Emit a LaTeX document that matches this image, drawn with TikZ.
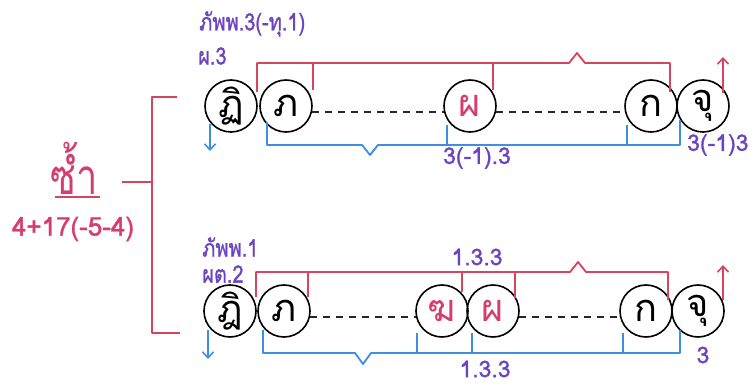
\documentclass[tikz,border=0pt]{standalone}
\usepackage{fontspec}
\usepackage{graphicx}
\newfontfamily\thai[Script=Thai]{Loma}
\newfontfamily\thaib[Script=Thai,FakeBold=1.2]{Loma}
\usetikzlibrary{arrows.meta}
\definecolor{rd}{HTML}{D8435E}
\definecolor{bl}{HTML}{3D8FE3}
\definecolor{pu}{HTML}{6B45C0}
\definecolor{pk}{HTML}{D63C6E}
\newcommand{\tall}[1]{\scalebox{1}[1.2]{#1}}
\tikzset{
  circ/.style={circle, draw=black, line width=1.6pt, minimum size=52pt, inner sep=0pt, font=\thai\fontsize{38}{38}\selectfont},
  lab/.style={text=pu, font=\thaib\fontsize{23}{23}\selectfont, inner sep=0pt},
  thlab/.style={text=pu, font=\thaib\fontsize{20}{20}\selectfont, inner sep=0pt, anchor=west},
  rline/.style={draw=rd, line width=1.8pt, line join=round},
  bline/.style={draw=bl, line width=1.8pt, line join=round},
  dsh/.style={draw=black!85, line width=1.5pt, dash pattern=on 7pt off 6pt},
  arr/.style={-{Straight Barb[length=6pt,width=11pt,line width=1.6pt]}}
}
\begin{document}
\begin{tikzpicture}[x=1pt,y=-1pt]
\useasboundingbox[fill=white] (0,0) rectangle (753,390);
% ---------- left ----------
\node[text=pk, font=\thai\fontsize{38}{38}\selectfont, inner sep=0pt] (z) at (74,168) {\scalebox{1}[1.3]{ซ้ำ}};
\coordinate (u1) at (55,197); \coordinate (u2) at (100,197);
\draw[rline] (u1) -- (u2);
\node[text=pk, font=\thaib\fontsize{26}{26}\selectfont, inner sep=0pt] (n) at (73,229) {4+17(-5-4)};
\draw[rline] (177,97) -- (152,97) -- (152,333) -- (180,333);
\draw[rline] (122,182) -- (152,182);
% ---------- row 1 ----------
\node[circ] (a1) at (231,106) {ฏิ};
\node[circ] (a2) at (286,106) {ภ};
\node[circ, text=pk] (a3) at (470,106) {ผ};
\node[circ] (a4) at (651,106) {ก};
\node[circ] (a5) at (703,106) {จุ};
\draw[dsh] (a2.-13) -- (a3.193);
\draw[dsh] (a3.-13) -- (a4.193);
\draw[rline] (257,92) -- (257,63) -- (569,63) -- (577,53) -- (585,63) -- (670,63) -- (670,92);
\draw[rline] (313,63) -- (313,90);
\draw[rline] (493,63) -- (493,90);
\draw[rline,arr] (723,93) -- (723,57);
\draw[bline,arr] (210,124) -- (210,151);
\draw[bline] (267,122) -- (267,145) -- (362,145) -- (370,155) -- (378,145) -- (680,145) -- (680,120);
\draw[bline] (447,125) -- (447,145);
\draw[bline] (627,125) -- (627,145);
\node[thlab] (t1) at (199,24) {\tall{ภัพพ.3(-ทุ.1)}};
\node[thlab] (t2) at (198,56) {\tall{ผ.3}};
\node[lab] (t3) at (477,158) {3(-1).3};
\node[lab, anchor=west] (t4) at (687,145) {3(-1)3};
% ---------- row 2 ----------
\node[circ] (b1) at (230,311) {ฎิ};
\node[circ] (b2) at (284,311) {ภ};
\node[circ, text=pk] (b3) at (442,311) {ฆ};
\node[circ, text=pk] (b4) at (493,311) {ผ};
\node[circ] (b5) at (646,311) {ก};
\node[circ] (b6) at (698,311) {จุ};
\draw[dsh] (b2.-13) -- (b3.193);
\draw[dsh] (b4.-13) -- (b5.193);
\draw[rline] (256,297) -- (256,272) -- (570,272) -- (578,262) -- (586,272) -- (668,272) -- (668,300);
\draw[rline] (308,272) -- (308,297);
\draw[rline] (462,272) -- (462,292);
\draw[rline] (515,272) -- (515,298);
\draw[rline,arr] (723,300) -- (723,265);
\draw[bline,arr] (208,330) -- (208,359);
\draw[bline] (263,330) -- (263,353) -- (355,353) -- (363,364) -- (371,353) -- (680,353) -- (680,330);
\draw[bline] (417,333) -- (417,353);
\draw[bline] (472,333) -- (472,353);
\draw[bline] (623,333) -- (623,353);
\node[thlab] (t5) at (202,247) {\tall{ภัพพ.1}};
\node[thlab] (t6) at (202,274) {\tall{ผต.2}};
\node[lab] (t7) at (477,257) {1.3.3};
\node[lab] (t8) at (485,369) {1.3.3};
\node[lab] (t9) at (703,355) {3};
\end{tikzpicture}
\end{document}
